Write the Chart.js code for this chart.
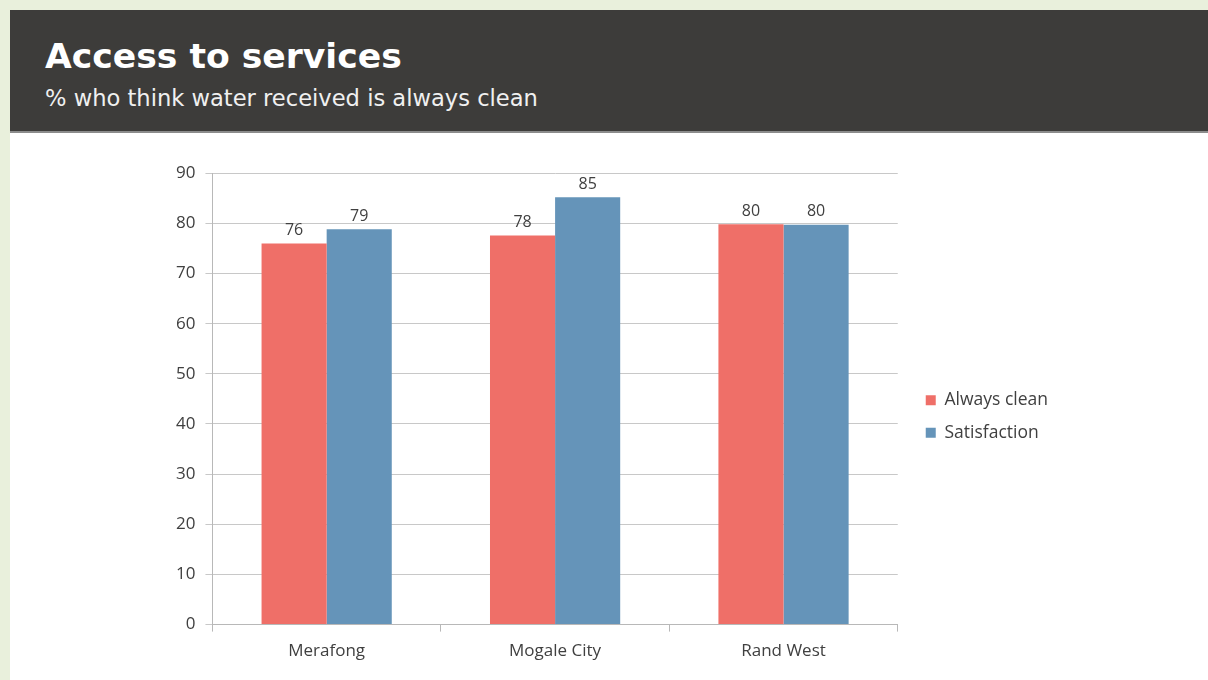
<!DOCTYPE html>
<html>
<head>
<meta charset="utf-8">
<script src="https://cdn.jsdelivr.net/npm/chart.js@4"></script>
<style>
  html, body { margin: 0; padding: 0; }
  body { width: 1208px; height: 680px; background: #e9f0dc; position: relative; overflow: hidden; }
  #header {
    position: absolute; left: 10px; top: 10px; width: 1198px; height: 121px;
    background: #3d3c3a; border-bottom: 2px solid #8c8c8c;
  }
  #header h1 {
    margin: 0; position: absolute; left: 35px; top: 26px;
    font-family: "DejaVu Sans", sans-serif; font-weight: bold; font-size: 34.6px; color: #fff;
  }
  #header p {
    margin: 0; position: absolute; left: 35px; top: 75px;
    font-family: "DejaVu Sans", sans-serif; font-size: 22.6px; color: #f0f0f0;
  }
  #panel { position: absolute; left: 10px; top: 133px; width: 1198px; height: 547px; background: #fff; }
  #wrap { position: absolute; left: 130px; top: 20px; width: 960px; height: 517px; }
</style>
</head>
<body>
<div id="header">
  <h1>Access to services</h1>
  <p>% who think water received is always clean</p>
</div>
<div id="panel">
  <div id="wrap"><canvas id="chart"></canvas></div>
</div>
<script>
const categories = ["Merafong", "Mogale City", "Rand West"];
const alwaysClean = [76, 77.6, 79.8];
const satisfaction = [78.8, 85.2, 79.7];
const yTicks = [0, 10, 20, 30, 40, 50, 60, 70, 80, 90];

const font = "'Open Sans', sans-serif";

// numbers above the bars
const valueLabels = {
  id: "valueLabels",
  afterDatasetsDraw(chart) {
    const ctx = chart.ctx;
    ctx.save();
    ctx.font = "16px " + font;
    ctx.fillStyle = "#404040";
    ctx.textAlign = "center";
    ctx.textBaseline = "bottom";
    chart.data.datasets.forEach(function (ds, i) {
      chart.getDatasetMeta(i).data.forEach(function (bar, j) {
        ctx.fillText(Math.round(ds.data[j]), bar.x, bar.y - 5);
      });
    });
    ctx.restore();
  }
};

// push the legend a little further from the plot
const legendGap = {
  id: "legendGap",
  afterLayout(chart) {
    if (!chart.legend) return;
    chart.legend.left += 13;
    chart.legend.right += 13;
  }
};

new Chart(document.getElementById("chart").getContext("2d"), {
  type: "bar",
  data: {
    labels: categories,
    datasets: [
      { label: "Always clean", data: alwaysClean, backgroundColor: "#ef6f68" },
      { label: "Satisfaction", data: satisfaction, backgroundColor: "#6594b9" }
    ]
  },
  options: {
    responsive: true,
    maintainAspectRatio: false,
    animation: false,
    layout: { padding: { left: 26, top: 10, right: 55, bottom: 0 } },
    datasets: { bar: { categoryPercentage: 0.57, barPercentage: 1 } },
    plugins: {
      legend: {
        position: "right",
        labels: {
          boxWidth: 10, boxHeight: 10, padding: 15, color: "#404040",
          font: { family: font, size: 17.5 }
        }
      },
      tooltip: { enabled: false }
    },
    scales: {
      x: {
        grid: { offset: true, drawOnChartArea: false, drawTicks: true, tickLength: 7, color: "#b8b8b8" },
        border: { color: "#b8b8b8" },
        ticks: { color: "#404040", padding: 9, font: { family: font, size: 17 } }
      },
      y: {
        min: 0, max: 90,
        afterBuildTicks(axis) { axis.ticks = yTicks.map(function (v) { return { value: v }; }); },
        grid: { color: "#c8c8c8", tickLength: 7 },
        border: { color: "#b8b8b8" },
        ticks: { color: "#404040", padding: 10, font: { family: font, size: 17 } }
      }
    }
  },
  plugins: [valueLabels, legendGap]
});
</script>
</body>
</html>
